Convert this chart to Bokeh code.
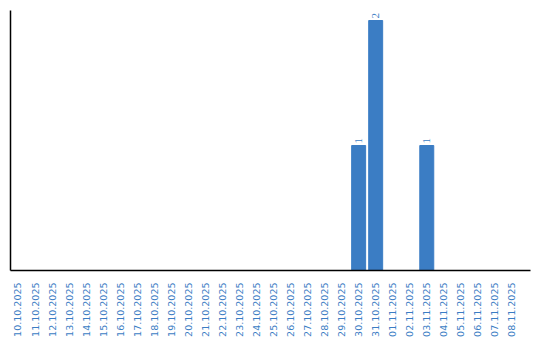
import math
from bokeh.plotting import figure
from bokeh.models import ColumnDataSource, Range1d, LabelSet, FixedTicker
from bokeh.embed import file_html
from bokeh.resources import INLINE

dates = ["10.10.2025", "11.10.2025", "12.10.2025", "13.10.2025", "14.10.2025",
         "15.10.2025", "16.10.2025", "17.10.2025", "18.10.2025", "19.10.2025",
         "20.10.2025", "21.10.2025", "22.10.2025", "23.10.2025", "24.10.2025",
         "25.10.2025", "26.10.2025", "27.10.2025", "28.10.2025", "29.10.2025",
         "30.10.2025", "31.10.2025", "01.11.2025", "02.11.2025", "03.11.2025",
         "04.11.2025", "05.11.2025", "06.11.2025", "07.11.2025", "08.11.2025"]
counts = [0, 0, 0, 0, 0, 0, 0, 0, 0, 0,
          0, 0, 0, 0, 0, 0, 0, 0, 0, 0,
          1, 2, 0, 0, 1, 0, 0, 0, 0, 0]

BLUE = "#3b7dc4"

xs = list(range(len(dates)))
src = ColumnDataSource(dict(x=xs, y=counts))
lab_src = ColumnDataSource(dict(
    x=[i for i, c in zip(xs, counts) if c > 0],
    y=[c for c in counts if c > 0],
    t=[str(c) for c in counts if c > 0]))

p = figure(width=540, height=340, x_range=Range1d(-0.44, 30.09),
           y_range=Range1d(0, 2.08), output_backend="svg", toolbar_location=None,
           min_border_left=10, min_border_right=10, min_border_top=10, min_border_bottom=70)
p.vbar(x="x", top="y", width=0.82, source=src, color=BLUE)

labels = LabelSet(x="x", y="y", text="t", source=lab_src, angle=math.pi / 2,
                  x_offset=0, y_offset=2, text_font_size="11px", text_color=BLUE,
                  text_font="DejaVu Sans", text_align="left", text_baseline="middle")
p.add_layout(labels)

p.outline_line_color = None
p.xgrid.grid_line_color = None
p.ygrid.grid_line_color = None

p.xaxis.ticker = FixedTicker(ticks=xs)
p.xaxis.major_label_overrides = {i: d for i, d in zip(xs, dates)}
p.xaxis.major_label_orientation = math.pi / 2
p.xaxis.major_label_text_color = BLUE
p.xaxis.major_label_text_font = "DejaVu Sans"
p.xaxis.major_label_text_font_size = "9.5px"
p.xaxis.major_tick_line_color = None
p.xaxis.minor_tick_line_color = None
p.xaxis.axis_line_color = "black"
p.xaxis.axis_line_width = 1.5
p.xaxis.major_label_standoff = 6

p.yaxis.ticker = FixedTicker(ticks=[])
p.yaxis.major_tick_line_color = None
p.yaxis.minor_tick_line_color = None
p.yaxis.axis_line_color = "black"
p.yaxis.axis_line_width = 1.5
p.yaxis.major_label_standoff = 0

open("out.html", "w").write(file_html(p, INLINE))
